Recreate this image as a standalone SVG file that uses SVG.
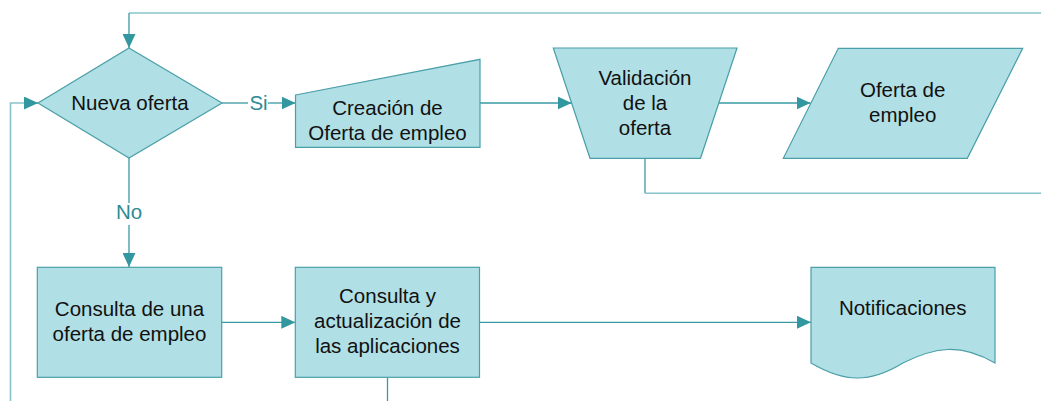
<svg xmlns="http://www.w3.org/2000/svg" width="1041" height="401" viewBox="0 0 1041 401">
<style>
.shape{fill:#b0dfe5;stroke:#4a9fa8;stroke-width:1.2}
.conn{fill:none;stroke:#3a9aa3;stroke-width:1.3}
.light{fill:none;stroke:#86c3ca;stroke-width:1.6}
.t{font-family:"Liberation Sans",Arial,sans-serif;font-size:20.5px;fill:#111;text-anchor:middle}
.lbl{font-family:"Liberation Sans",Arial,sans-serif;font-size:20.5px;fill:#2f8a93;text-anchor:middle}
</style>
<defs>
<marker id="arr" viewBox="0 0 14 13" refX="14" refY="6.5" markerWidth="14" markerHeight="13" markerUnits="userSpaceOnUse" orient="auto">
<path d="M0,0 L14,6.5 L0,13 Z" fill="#33979f"/>
</marker>
</defs>
<rect width="1041" height="401" fill="#ffffff"/>
<g id="connectors">
<path class="light" d="M1041,13 H129"/>
<path class="conn" d="M129,13 V48" marker-end="url(#arr)"/>
<path class="light" d="M10.5,401 V103 H24"/>
<path class="conn" d="M24,103 H38" marker-end="url(#arr)"/>
<path class="conn" d="M222,103 H248"/>
<path class="conn" d="M268,103 H295.5" marker-end="url(#arr)"/>
<text class="lbl" x="258.5" y="110">Si</text>
<path class="conn" d="M480,103 H571.7" marker-end="url(#arr)"/>
<path class="conn" d="M719,103 H810.5" marker-end="url(#arr)"/>
<path class="conn" d="M645,158 V193.3"/>
<path class="light" d="M645,193.3 H1041"/>
<path class="conn" d="M129,158 V203"/>
<text class="lbl" x="129" y="219">No</text>
<path class="conn" d="M129,225 V267" marker-end="url(#arr)"/>
<path class="conn" d="M222,322.3 H295.3" marker-end="url(#arr)"/>
<path class="conn" d="M480,322.3 H811" marker-end="url(#arr)"/>
<path class="conn" d="M387.5,377.3 V401"/>
</g>
<g id="nueva-oferta">
<polygon class="shape" points="129,48 222,103 129,158 38,103"/>
<text class="t" x="130" y="110">Nueva oferta</text>
</g>
<g id="creacion">
<polygon class="shape" points="295.5,95 480,59.3 480,147.3 295.5,147.3"/>
<text class="t" x="387.5" y="115">Creación de</text>
<text class="t" x="387.5" y="140">Oferta de empleo</text>
</g>
<g id="validacion">
<polygon class="shape" points="553.3,48 737,48 700.5,158.3 590,158.3"/>
<text class="t" x="645" y="85">Validación</text>
<text class="t" x="645" y="110">de la</text>
<text class="t" x="645" y="135">oferta</text>
</g>
<g id="oferta-empleo">
<polygon class="shape" points="838.3,48.3 1022.7,48.3 967.3,158.3 783.3,158.3"/>
<text class="t" x="902.7" y="96.7">Oferta de</text>
<text class="t" x="902.7" y="121.7">empleo</text>
</g>
<g id="consulta-oferta">
<rect class="shape" x="37.3" y="267.3" width="184.4" height="110"/>
<text class="t" x="129.5" y="315.7">Consulta de una</text>
<text class="t" x="129.5" y="340.7">oferta de empleo</text>
</g>
<g id="consulta-aplicaciones">
<rect class="shape" x="295.3" y="267.3" width="184.2" height="110"/>
<text class="t" x="387.5" y="303.3">Consulta y</text>
<text class="t" x="387.5" y="328.3">actualización de</text>
<text class="t" x="387.5" y="353.3">las aplicaciones</text>
</g>
<g id="notificaciones">
<path class="shape" d="M811,267.3 H995 V363 C960,343 935,347 903,363 C870,383 845,383 811,363 Z"/>
<text class="t" x="902.7" y="315">Notificaciones</text>
</g>
</svg>
